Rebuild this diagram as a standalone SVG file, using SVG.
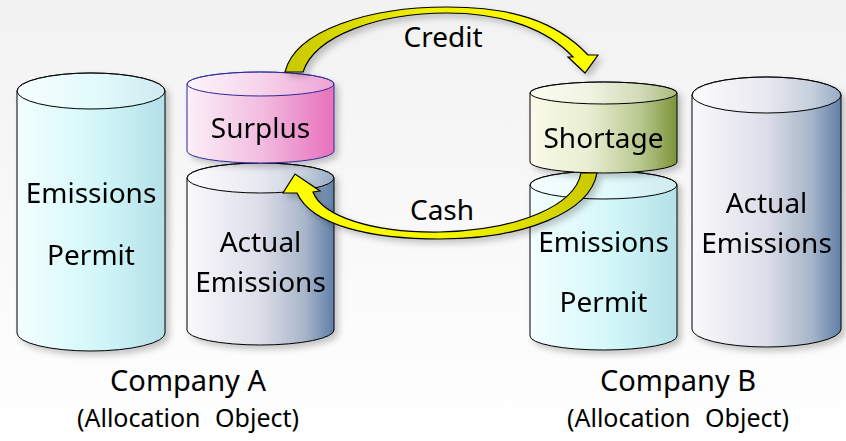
<svg xmlns="http://www.w3.org/2000/svg" width="846" height="441" viewBox="0 0 846 441">
  <defs>
    <linearGradient id="bg" x1="0" y1="0" x2="0" y2="1">
      <stop offset="0" stop-color="#f2f2f2"/>
      <stop offset="1" stop-color="#ffffff"/>
    </linearGradient>
    <linearGradient id="gCyan" x1="0" y1="0" x2="1" y2="0">
      <stop offset="0" stop-color="#f4fefe"/>
      <stop offset="0.55" stop-color="#d2f7f9"/>
      <stop offset="1" stop-color="#b4e0e8"/>
    </linearGradient>
    <linearGradient id="gSteel" x1="0" y1="0" x2="1" y2="0">
      <stop offset="0" stop-color="#fafafc"/>
      <stop offset="0.5" stop-color="#dcdde8"/>
      <stop offset="0.8" stop-color="#a8b6ca"/>
      <stop offset="1" stop-color="#5f7fa8"/>
    </linearGradient>
    <linearGradient id="gPink" x1="0" y1="0" x2="1" y2="0">
      <stop offset="0" stop-color="#fcf0f8"/>
      <stop offset="0.5" stop-color="#f2bde0"/>
      <stop offset="1" stop-color="#e870bc"/>
    </linearGradient>
    <linearGradient id="gOlive" x1="0" y1="0" x2="1" y2="0">
      <stop offset="0" stop-color="#fafae8"/>
      <stop offset="0.4" stop-color="#e8eed2"/>
      <stop offset="0.75" stop-color="#b8c890"/>
      <stop offset="1" stop-color="#7c9438"/>
    </linearGradient>
    <linearGradient id="gCredit" x1="0" y1="0" x2="1" y2="0">
      <stop offset="0" stop-color="#c8c800"/>
      <stop offset="0.45" stop-color="#f0f000"/>
      <stop offset="1" stop-color="#ffff00"/>
    </linearGradient>
    <linearGradient id="gCash" x1="0" y1="0" x2="1" y2="0">
      <stop offset="0" stop-color="#ffff00"/>
      <stop offset="0.55" stop-color="#f4f400"/>
      <stop offset="1" stop-color="#c8c800"/>
    </linearGradient>
    <filter id="shadow" x="-10%" y="-10%" width="130%" height="130%">
      <feDropShadow dx="4" dy="4" stdDeviation="3" flood-color="#000" flood-opacity="0.22"/>
    </filter>
  </defs>
  <style>
    .body { stroke: #000; stroke-width: 1; }
    .lid { fill: #fff; fill-opacity: 0.35; stroke: #000; stroke-width: 1; }
    .surplus .body, .surplus .lid { stroke: #2a2a9a; }
    .lbl { font-family: "Noto Sans", "Open Sans", sans-serif; font-size: 28px; fill: #000; text-anchor: middle; }
    .co { font-family: "Noto Sans", "Open Sans", sans-serif; font-size: 29px; fill: #000; text-anchor: middle; }
    .sub { font-family: "Noto Sans", "Open Sans", sans-serif; font-size: 25px; fill: #000; text-anchor: middle; word-spacing: 8px; }
    .arrow { stroke: #000; stroke-width: 1.2; stroke-linejoin: miter; }
  </style>

  <rect width="846" height="441" fill="url(#bg)"/>

  <!-- Company A: emissions permit -->
  <g id="permitA" filter="url(#shadow)">
    <path class="body" fill="url(#gCyan)" d="M17 91 L17 333 A74 18 0 0 0 165 333 L165 91 A74 18 0 0 0 17 91 Z"/>
    <ellipse class="lid" cx="91" cy="91" rx="74" ry="18"/>
    <text class="lbl" x="91" y="203">Emissions</text>
    <text class="lbl" x="91" y="265">Permit</text>
  </g>

  <!-- Company A: actual emissions -->
  <g id="actualA" filter="url(#shadow)">
    <path class="body" fill="url(#gSteel)" d="M187 178 L187 330 A73.5 15 0 0 0 334 330 L334 178 A73.5 15 0 0 0 187 178 Z"/>
    <ellipse class="lid" cx="260.5" cy="178" rx="73.5" ry="15"/>
    <text class="lbl" x="260.5" y="252">Actual</text>
    <text class="lbl" x="260.5" y="292">Emissions</text>
  </g>

  <!-- Company A: surplus -->
  <g id="surplus" class="surplus" filter="url(#shadow)">
    <path class="body" fill="url(#gPink)" d="M187 84 L187 151 A73.5 12 0 0 0 334 151 L334 84 A73.5 12 0 0 0 187 84 Z"/>
    <ellipse class="lid" cx="260.5" cy="84" rx="73.5" ry="12"/>
    <text class="lbl" x="260.5" y="138">Surplus</text>
  </g>

  <!-- Company B: emissions permit -->
  <g id="permitB" filter="url(#shadow)">
    <path class="body" fill="url(#gCyan)" d="M530 185 L530 336 A73.5 14 0 0 0 677 336 L677 185 A73.5 14 0 0 0 530 185 Z"/>
    <ellipse class="lid" cx="603.5" cy="185" rx="73.5" ry="14"/>
    <text class="lbl" x="603.5" y="252">Emissions</text>
    <text class="lbl" x="603.5" y="312">Permit</text>
  </g>

  <!-- Company B: shortage -->
  <g id="shortage" filter="url(#shadow)">
    <path class="body" fill="url(#gOlive)" d="M530 93 L530 162 A73.5 11 0 0 0 677 162 L677 93 A73.5 11 0 0 0 530 93 Z"/>
    <ellipse class="lid" cx="603.5" cy="93" rx="73.5" ry="11"/>
    <text class="lbl" x="603.5" y="148">Shortage</text>
  </g>

  <!-- Company B: actual emissions -->
  <g id="actualB" filter="url(#shadow)">
    <path class="body" fill="url(#gSteel)" d="M692 95 L692 329 A74.5 18 0 0 0 841 329 L841 95 A74.5 18 0 0 0 692 95 Z"/>
    <ellipse class="lid" cx="766.5" cy="95" rx="74.5" ry="18"/>
    <text class="lbl" x="766.5" y="213">Actual</text>
    <text class="lbl" x="766.5" y="253">Emissions</text>
  </g>

  <!-- connectors: credit flows A to B, cash flows B to A -->
  <g id="connectors" filter="url(#shadow)">
    <path id="credit" class="arrow" fill="url(#gCredit)"
          d="M285 72 C295 30 370 7 447 7 C510 7 555 20 588 55 L598 55 L585 73 L568 57 L573 57 C548 30 505 13 447 13 C380 13 315 35 303 72 Z"/>
    <path id="cash" class="arrow" fill="url(#gCash)"
          d="M581 173 C575 205 520 230 440 232 C372 233 322 216 313 192 L320 191 L295 174 L283 193 L297 193 C312 226 372 239 440 239 C525 239 590 212 597 173 Z"/>
  </g>

  <g id="labels">
    <text class="lbl" x="443" y="47">Credit</text>
    <text class="lbl" x="442" y="220">Cash</text>
    <text class="co" x="188" y="391">Company A</text>
    <text class="sub" x="188" y="427">(Allocation Object)</text>
    <text class="co" x="678" y="391">Company B</text>
    <text class="sub" x="678" y="427">(Allocation Object)</text>
  </g>
</svg>
